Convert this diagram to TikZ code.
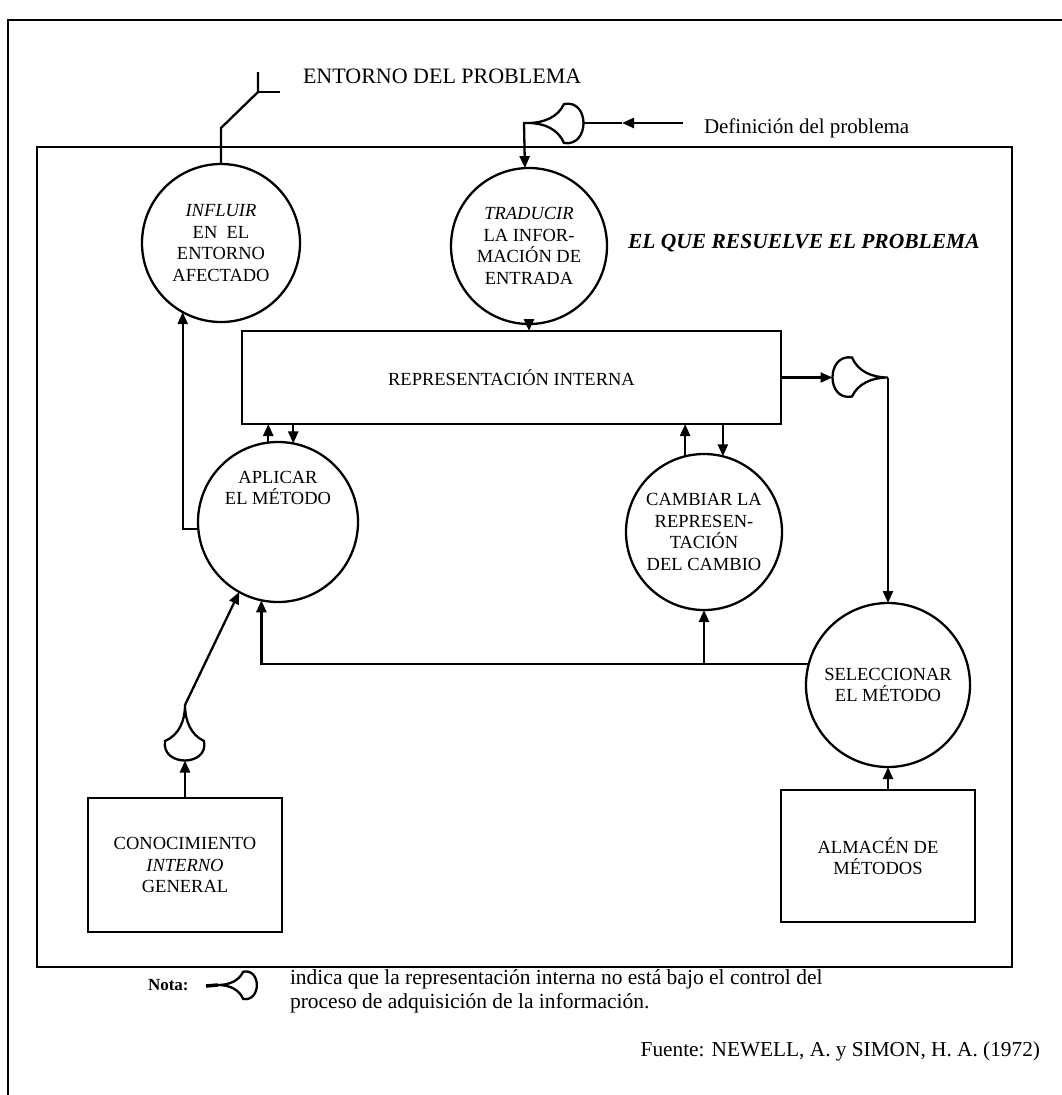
\documentclass[tikz,border=0pt]{standalone}
\usepackage{fontspec}
\setmainfont{Liberation Serif}
\usetikzlibrary{arrows.meta}
\begin{document}
\begin{tikzpicture}[x=1pt,y=-1pt, line width=2.3pt,
  arr/.style={-{Triangle[length=12pt,width=10pt]}},
  lbl/.style={font=\fontsize{18.5}{21.5}\selectfont},
  proc/.style={circle, draw, inner sep=0pt, outer sep=0pt, align=center, lbl},
  store/.style={rectangle, draw, inner sep=0pt, outer sep=0pt, align=center, lbl},
  txt/.style={inner sep=0pt, outer sep=0pt},
  ear/.pic={
    \draw (0,0) .. controls (16,0) and (30,-6) .. (36,-19)
      .. controls (62,-24) and (62,24) .. (36,20)
      .. controls (30,6) and (16,0) .. (0,0) -- cycle;
    \coordinate (-tip) at (0,0);
    \coordinate (-back) at (55.5,0);
  }]
\useasboundingbox (0,0) rectangle (1062,1095);
% frames
\draw (8,1095) -- (8,20) -- (1062,20);
\draw (37,147) rectangle (1012,967);
% nodes
\node[proc, minimum size=158pt] (infl) at (221,243) {\textit{INFLUIR}\\EN\ \ EL\\ENTORNO\\AFECTADO};
\node[proc, minimum size=156pt] (trad) at (529,246) {\textit{TRADUCIR}\\LA INFOR-\\MACIÓN DE\\ENTRADA};
\node[store, minimum width=539pt, minimum height=93pt] (rep) at (511.5,377.5) {REPRESENTACIÓN INTERNA};
\node[proc, minimum size=160pt, label={[lbl, align=center, yshift=34pt]center:{APLICAR\\EL MÉTODO}}] (apl) at (278,522) {};
\node[proc, minimum size=156pt] (camb) at (704,532) {CAMBIAR LA\\REPRESEN-\\TACIÓN\\DEL CAMBIO};
\node[proc, minimum size=164pt] (sel) at (888,685) {SELECCIONAR\\EL MÉTODO};
\node[store, minimum width=194pt, minimum height=134pt] (con) at (185,865) {CONOCIMIENTO\\\textit{INTERNO}\\GENERAL};
\node[store, minimum width=194pt, minimum height=132pt] (alm) at (878,856) {ALMACÉN DE\\MÉTODOS};
% ear symbols
\pic (e1) at (528,123) {ear};
\pic[rotate=180] (e2) at (888,377.5) {ear};
\pic[rotate=-90] (e3) at (185,705) {ear};
\pic[scale=0.7] (e4) at (218,985) {ear};
% antenna
\coordinate (a1) at (221,128);
\coordinate (a2) at (258,92);
\coordinate (a3) at (258,72);
\coordinate (a4) at (280,92);
\draw (infl.north) -- (a1) -- (a2) -- (a3);
\draw (a2) -- (a4);
% definition input
\coordinate (d0) at (683,123);
\coordinate (d1) at (622,123);
\coordinate (d2) at (524,123);
\draw[arr] (d0) -- (d1);
\draw (d1) -- (e1-back);
\draw[arr] (e1-tip) -- (d2) -- (trad.93.7);
% connectors
\draw[arr] (trad.south) -- (trad.south |- rep.north);
\draw[arr] (rep.east) -- (e2-back);
\draw[arr] (e2-tip) -- (sel.north);
\draw[arr] (apl.97.18) -- (apl.97.18 |- rep.south);
\draw[arr] (apl.79.92 |- rep.south) -- (apl.79.92);
\draw[arr] (camb.104.86) -- (camb.104.86 |- rep.south);
\draw[arr] (camb.76.66 |- rep.south) -- (camb.76.66);
\draw[arr] (apl.185.74) -| (infl.241.25);
\draw[arr] (sel.165.88) -| (apl.258.46);
\draw[arr] (camb.south |- sel.165.88) -- (camb.south);
\draw[arr] (sel.south |- alm.north) -- (sel.south);
\draw[arr] (con.north) -- (e3-back);
\draw[arr] (e3-tip) -- (apl.241.6);
% texts
\node[txt, anchor=base west, font=\fontsize{22}{26}\selectfont] (t1) at (303,83) {ENTORNO DEL PROBLEMA};
\node[txt, anchor=base west, font=\fontsize{21}{24}\selectfont] (t2) at (704,133) {Definición del problema};
\node[txt, anchor=base west, font=\fontsize{21.5}{26}\selectfont\bfseries\itshape] (t3) at (628,248) {EL QUE RESUELVE EL PROBLEMA};
\node[txt, anchor=base west, font=\fontsize{17}{20}\selectfont\bfseries] (t4) at (148,990) {Nota:};
\coordinate (n0) at (206,986);
\draw[line width=3.5pt] (n0) -- (e4-tip);
\node[txt, anchor=base west, font=\fontsize{21.5}{25}\selectfont] (t5) at (290,984) {indica que la representación interna no está bajo el control del};
\node[txt, anchor=base west, font=\fontsize{21.5}{25}\selectfont] (t6) at (290,1008) {proceso de adquisición de la información.};
\node[txt, anchor=base east, font=\fontsize{21.3}{24}\selectfont] (t7) at (1040,1056) {Fuente: NEWELL, A. y SIMON, H. A. (1972)};
\end{tikzpicture}
\end{document}
